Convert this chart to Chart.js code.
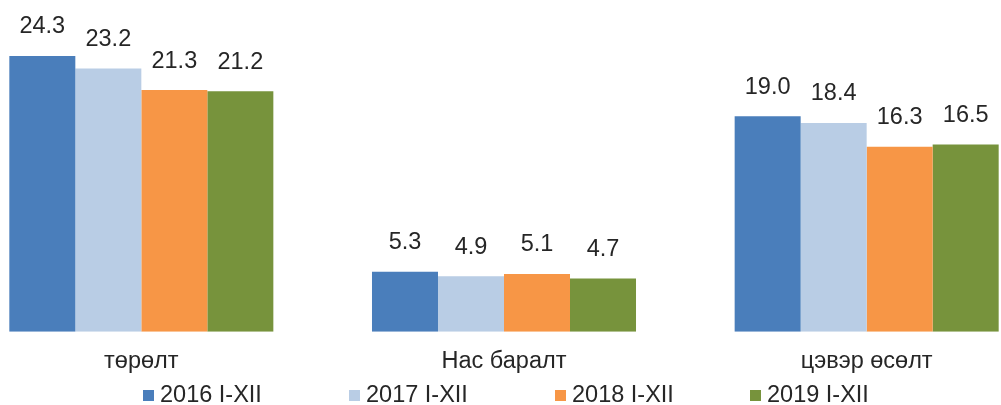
<!DOCTYPE html>
<html>
<head>
<meta charset="utf-8">
<script src="https://cdn.jsdelivr.net/npm/chart.js@4.4.0/dist/chart.umd.min.js"></script>
<style>
  html, body { margin: 0; padding: 0; background: #fff; overflow: hidden; width: 1001px; height: 405px; }
  #wrap { position: absolute; left: -40px; top: 0; width: 1088px; height: 405px; }
  #legend { position: absolute; top: 381px; left: 0; width: 1001px; height: 24px; font-family: Arial, "Liberation Sans", sans-serif; font-size: 23.5px; color: #262626; }
  #legend span.item { position: absolute; top: 0; white-space: nowrap; line-height: 26px; }
  #legend i { display: inline-block; width: 11px; height: 11px; margin-right: 6px; vertical-align: 1px; }
</style>
</head>
<body>
<div id="wrap"><canvas id="chart"></canvas></div>
<div id="legend"></div>
<script>
  // Categories and series
  const categories = ['төрөлт', 'Нас баралт', 'цэвэр өсөлт'];
  const seriesNames = ['2016 I-XII', '2017 I-XII', '2018 I-XII', '2019 I-XII'];
  const v2016 = [24.3, 5.3, 19.0];
  const v2017 = [23.2, 4.9, 18.4];
  const v2018 = [21.3, 5.1, 16.3];
  const v2019 = [21.2, 4.7, 16.5];
  const colors = ['#4a7ebb', '#b9cde5', '#f79646', '#77933c'];
  const legendX = [143, 349, 555, 750];

  const font = 'Arial, "Liberation Sans", sans-serif';
  const textColor = '#262626';

  // value labels above each bar
  const valueLabels = {
    id: 'valueLabels',
    afterDatasetsDraw(chart) {
      const { ctx } = chart;
      ctx.save();
      ctx.font = '23.5px ' + font;
      ctx.fillStyle = textColor;
      ctx.textAlign = 'center';
      ctx.textBaseline = 'middle';
      chart.data.datasets.forEach((ds, i) => {
        chart.getDatasetMeta(i).data.forEach((bar, j) => {
          ctx.fillText(ds.data[j].toFixed(1), bar.x, bar.y - 29);
        });
      });
      ctx.restore();
    },
  };

  const datasets = [v2016, v2017, v2018, v2019].map((vals, i) => ({
    label: seriesNames[i],
    data: vals,
    backgroundColor: colors[i],
    borderWidth: 0,
    categoryPercentage: 0.728,
    barPercentage: 1.0,
  }));

  new Chart(document.getElementById('chart'), {
    type: 'bar',
    data: { labels: categories, datasets },
    options: {
      responsive: true,
      maintainAspectRatio: false,
      animation: false,
      layout: { padding: { top: 14, bottom: 21, left: 0, right: 0 } },
      plugins: { legend: { display: false }, tooltip: { enabled: false } },
      scales: {
        x: {
          grid: { display: false },
          border: { display: false },
          ticks: { color: textColor, font: { family: font, size: 23.5 }, padding: 8 },
        },
        y: { display: false, min: 0, max: 28 },
      },
    },
    plugins: [valueLabels],
  });

  // legend built from the series
  const legend = document.getElementById('legend');
  seriesNames.forEach((name, i) => {
    const s = document.createElement('span');
    s.className = 'item';
    s.style.left = legendX[i] + 'px';
    s.innerHTML = '<i style="background:' + colors[i] + '"></i>' + name;
    legend.appendChild(s);
  });
</script>
</body>
</html>
